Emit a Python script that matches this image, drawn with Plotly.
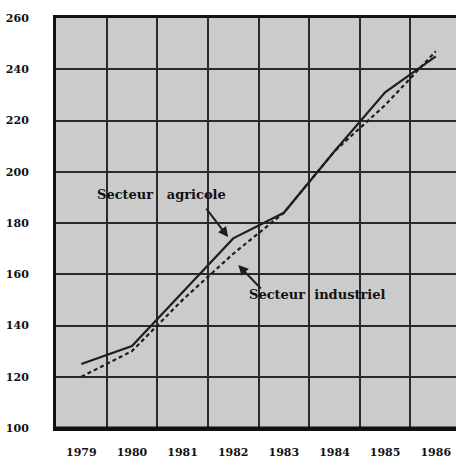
import plotly.graph_objects as go

years = ["1979", "1980", "1981", "1982", "1983", "1984", "1985", "1986"]
agricole = [125, 132, 153, 174, 184, 208, 231, 245]
industriel = [120, 130, 150, 168, 184, 208, 226, 247]
y_ticks = [100, 120, 140, 160, 180, 200, 220, 240, 260]

serif = "DejaVu Serif"
ink = "#1e1e1e"

fig = go.Figure()
fig.add_trace(go.Scatter(x=years, y=agricole, mode="lines",
                         line=dict(color=ink, width=2.2), name="Secteur agricole"))
fig.add_trace(go.Scatter(x=years, y=industriel, mode="lines",
                         line=dict(color=ink, width=2.2, dash="4px,3px"), name="Secteur industriel"))

ann_font = dict(family=serif, size=13, color="#111", weight="bold")
fig.add_annotation(x=1.59, y=191, xref="x", yref="y", text="Secteur&nbsp;&nbsp;&nbsp;agricole",
                   showarrow=False, font=ann_font)
fig.add_annotation(x=2.9, y=174.5, xref="x", yref="y", text="", showarrow=True,
                   ax=-23, ay=-30, arrowhead=2, arrowsize=1, arrowwidth=2, arrowcolor=ink)
fig.add_annotation(x=4.66, y=152, xref="x", yref="y", text="Secteur&nbsp;&nbsp;industriel",
                   showarrow=False, font=ann_font)
fig.add_annotation(x=3.1, y=163.6, xref="x", yref="y", text="", showarrow=True,
                   ax=24, ay=25, arrowhead=2, arrowsize=1, arrowwidth=2, arrowcolor=ink)

# bottom frame edge of the plotting area
fig.add_shape(type="line", xref="paper", yref="paper", x0=0, x1=1, y0=0, y1=0,
              line=dict(color="#111", width=3), layer="above")

fig.update_layout(
    width=456, height=459,
    margin=dict(l=56, r=0, t=18, b=31),
    paper_bgcolor="white",
    plot_bgcolor="#cbcbcb",
    showlegend=False,
    font=dict(family=serif, color="#111"),
)
fig.update_xaxes(
    type="category", tickson="boundaries", range=[-0.5, 7.4], automargin=False,
    showgrid=True, gridcolor="#2a2a2a", gridwidth=2,
    showline=True, linecolor="#111", linewidth=3, mirror="all",
    ticks="outside", ticklen=1, tickcolor="rgba(0,0,0,0)", ticklabelstandoff=12,
    tickfont=dict(family=serif, size=11, color="#111", weight="bold"),
)
fig.update_yaxes(
    range=[100, 260], tickvals=y_ticks, automargin=False,
    showgrid=True, gridcolor="#2a2a2a", gridwidth=2,
    showline=True, linecolor="#111", linewidth=3,
    ticks="outside", ticklen=22, tickcolor="rgba(0,0,0,0)",
    tickfont=dict(family=serif, size=11, color="#111", weight="bold"),
    zeroline=False,
)

fig.write_html(
    "out.html",
    config={"displayModeBar": False},
    post_script="document.body.style.margin='0';document.body.style.overflow='hidden';",
)
